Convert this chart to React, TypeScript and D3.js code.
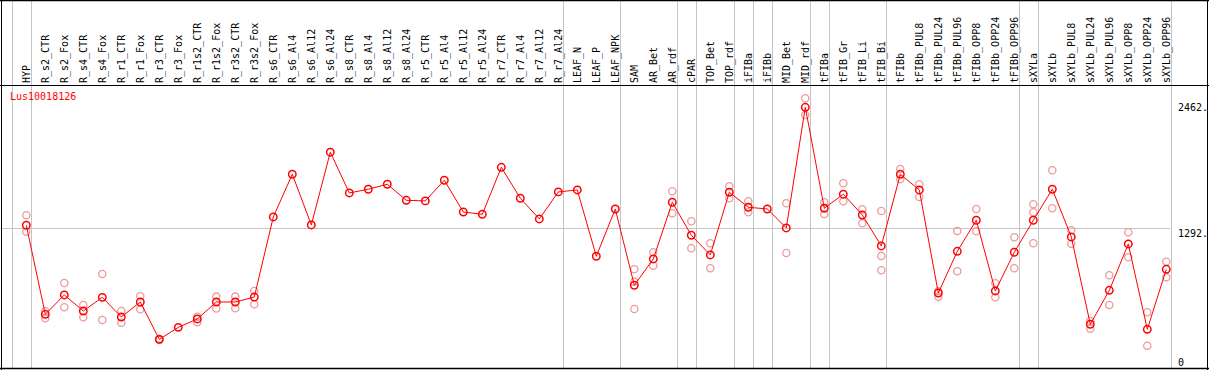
import React from "react";
import * as d3 from "d3";

const samples = [
  "HYP", "R_s2_CTR", "R_s2_Fox", "R_s4_CTR", "R_s4_Fox", "R_r1_CTR", "R_r1_Fox", "R_r3_CTR", "R_r3_Fox",
  "R_r1s2_CTR", "R_r1s2_Fox", "R_r3s2_CTR", "R_r3s2_Fox", "R_s6_CTR", "R_s6_Al4", "R_s6_Al12", "R_s6_Al24",
  "R_s8_CTR", "R_s8_Al4", "R_s8_Al12", "R_s8_Al24", "R_r5_CTR", "R_r5_Al4", "R_r5_Al12", "R_r5_Al24",
  "R_r7_CTR", "R_r7_Al4", "R_r7_Al12", "R_r7_Al24", "LEAF_N", "LEAF_P", "LEAF_NPK", "SAM", "AR_Bet", "AR_rdf",
  "cPAR", "TOP_Bet", "TOP_rdf", "iFIBa", "iFIBb", "MID_Bet", "MID_rdf", "tFIBa", "tFIB_Gr", "tFIB_Li", "tFIB_Bi",
  "tFIBb", "tFIBb_PUL8", "tFIBb_PUL24", "tFIBb_PUL96", "tFIBb_OPP8", "tFIBb_OPP24", "tFIBb_OPP96", "sXYLa",
  "sXYLb", "sXYLb_PUL8", "sXYLb_PUL24", "sXYLb_PUL96", "sXYLb_OPP8", "sXYLb_OPP24", "sXYLb_OPP96",
];

const means = [
  1322, 461, 648, 493, 625, 435, 580, 219, 335, 416, 580, 580, 628,
  1402, 1815, 1325, 2028, 1634, 1670, 1718, 1563, 1557, 1757, 1450, 1428, 1882, 1583, 1383, 1644,
  1663, 1022, 1479,
  742, 996, 1544, 1225, 1035, 1641, 1496, 1479, 1296, 2462, 1486,
  1622, 1421, 1122, 1815, 1663, 667, 1070, 1370, 687, 1061, 1370, 1670, 1209, 365, 693, 1141, 316, 896,
];

const replicates: number[][] = [
  [1418, 1260], [490, 422], [764, 529], [551, 432], [851, 406], [493, 380], [635, 509], [225, 213], [],
  [438, 384], [632, 516], [632, 519], [687, 558],
  [], [], [], [], [], [], [], [], [], [], [], [], [], [], [], [],
  [], [], [],
  [896, 776, 512], [1061, 931], [1650, 1438], [1360, 1099], [1148, 906], [1699, 1583], [1554, 1447], [],
  [1535, 1054], [2550, 2388], [1544, 1431],
  [1728, 1554], [1476, 1341], [1460, 1025, 887], [1866, 1767], [1718, 1595], [683, 631], [1267, 877],
  [1479, 1264], [761, 626], [1206, 906], [1525, 1447, 1148], [1854, 1486], [1273, 1144], [396, 322],
  [838, 551], [1254, 1012], [481, 158], [970, 819],
];

const groupEnds = [
  "HYP", "R_r7_Al24", "LEAF_NPK", "AR_rdf", "cPAR", "TOP_rdf", "iFIBa", "iFIBb", "MID_rdf", "tFIBa",
  "tFIB_Bi", "tFIBb_OPP96", "sXYLa", "sXYLb_OPP96",
];

const yTicks = [2462, 1292, 0];
const geneName = "Lus10018126";

const W = 1209;
const H = 370;
const FONT = "'DejaVu Sans Mono', monospace";

export default function App() {
  const x = d3.scalePoint<string>().domain(samples).range([26.3, 1166.3]);
  const step = x.step();
  const y = d3.scaleLinear().domain([0, 2462]).range([362, 107.3]);

  const line = d3
    .line<number>()
    .x((_, i) => x(samples[i]) as number)
    .y((d) => y(d));

  const sepXs = [
    (x(samples[0]) as number) - step + 4.4,
    ...groupEnds.map((g) => (x(g) as number) + 4.4),
  ].map((v) => Math.round(v) + 0.5);

  const gridY = Math.round(y(1292)) + 0.5;

  return (
    <svg
      width={W}
      height={H}
      style={{ position: "absolute", left: 0, top: 0, background: "#fff" }}
      fontFamily={FONT}
    >
      <rect x={0} y={0} width={W} height={H} fill="#fff" />
      {/* gridline */}
      <line x1={1} x2={1170} y1={gridY} y2={gridY} stroke="#c4c4c4" strokeWidth={1} />
      {/* group separators */}
      {sepXs.map((sx, i) => (
        <line key={i} x1={sx} x2={sx} y1={0} y2={369} stroke="#c4c4c4" strokeWidth={1} />
      ))}
      {/* borders */}
      <line x1={1.5} x2={1.5} y1={0} y2={370} stroke="#000" strokeWidth={1} />
      <line x1={1207.5} x2={1207.5} y1={0} y2={370} stroke="#000" strokeWidth={1} />
      <line x1={0} x2={W} y1={0.5} y2={0.5} stroke="#000" strokeWidth={1.5} />
      <line x1={0} x2={W} y1={85.5} y2={85.5} stroke="#000" strokeWidth={1} />
      <line x1={0} x2={W} y1={368.5} y2={368.5} stroke="#000" strokeWidth={1.5} />

      {/* column labels */}
      {samples.map((s) => {
        const tx = (x(s) as number) + 3.5;
        return (
          <text
            key={s}
            transform={`translate(${tx},83) rotate(-90)`}
            fontSize={10}
            fill="#000"
            textAnchor="start"
          >
            {s}
          </text>
        );
      })}

      {/* y tick labels */}
      {yTicks.map((t, i) => (
        <text key={t} x={1178} y={y(t) + (i === 1 ? 8.5 : 4)} fontSize={10} fill="#000">
          {t === 0 ? "0" : `${t}.`}
        </text>
      ))}

      {/* gene name */}
      <text x={10} y={100} fontSize={10} fill="#ff0000">
        {geneName}
      </text>

      {/* replicate circles */}
      {replicates.map((reps, i) =>
        reps.map((v, j) => (
          <circle
            key={`${i}-${j}`}
            cx={x(samples[i]) as number}
            cy={y(v)}
            r={3.6}
            fill="none"
            stroke="#ec9a9a"
            strokeWidth={1.3}
          />
        ))
      )}

      {/* mean line */}
      <path d={line(means) as string} fill="none" stroke="#ff0000" strokeWidth={1} />

      {/* mean circles */}
      {means.map((v, i) => (
        <circle
          key={i}
          cx={x(samples[i]) as number}
          cy={y(v)}
          r={3.7}
          fill="none"
          stroke="#ff0000"
          strokeWidth={1.5}
        />
      ))}
    </svg>
  );
}
